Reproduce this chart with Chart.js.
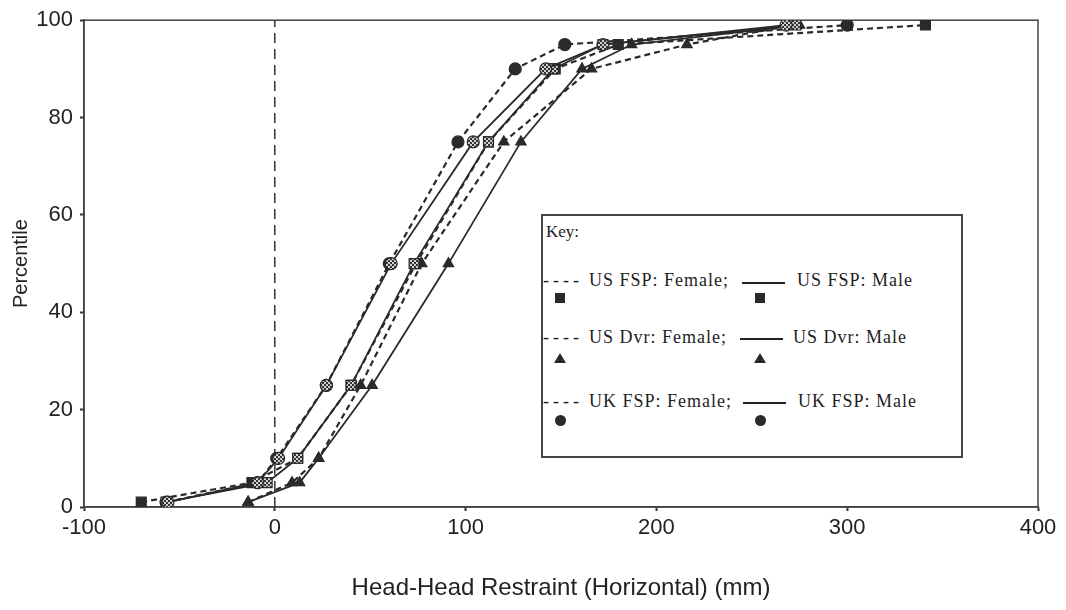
<!DOCTYPE html>
<html>
<head>
<meta charset="utf-8">
<script src="https://cdn.jsdelivr.net/npm/chart.js@4"></script>
<style>
  html, body { margin: 0; padding: 0; background: #fff; }
  #wrap { position: relative; width: 1066px; height: 610px; }
  #c { position: absolute; left: 0; top: 0; }
  #key { position: absolute; left: 541px; top: 214px; width: 422px; height: 244px; box-sizing: border-box;
         border: 2px solid #444; background: #fff; font-family: "Liberation Serif", "Times New Roman", serif; color: #1e1e1e; }
  .t { position: absolute; font-size: 18px; line-height: 18px; white-space: nowrap; letter-spacing: 1px; }
  .dl { position: absolute; height: 0; border-top: 2px solid #222; }
  .sq { position: absolute; width: 10px; height: 10px; background: #2a2a2a; }
  .tri { position: absolute; width: 0; height: 0; border-left: 6px solid transparent; border-right: 6px solid transparent; border-bottom: 10px solid #2a2a2a; }
  .ci { position: absolute; width: 11px; height: 11px; border-radius: 50%; background: #2a2a2a; }
</style>
</head>
<body>
<div id="wrap">
  <canvas id="c" width="1066" height="610"></canvas>
  <div id="key"></div>
</div>
<script>
// ---- data ----
const percentiles = [1, 5, 10, 25, 50, 75, 90, 95, 99];
const usFspFemale = [-70, -12, 12, 40, 74, 112, 147, 180, 341];
const usFspMale   = [-57, -4, 12, 40, 73, 112, 146, 172, 273];
const usDvrFemale = [-14, 9, 23, 45, 77, 120, 166, 216, 272];
const usDvrMale   = [-14, 13, 23, 51, 91, 129, 161, 187, 275];
const ukFspFemale = [-57, -9, 1, 27, 60, 96, 126, 152, 300];
const ukFspMale   = [-56, -9, 2, 27, 61, 104, 142, 172, 268];
const xTicks = [-100, 0, 100, 200, 300, 400];
const yTicks = [0, 20, 40, 60, 80, 100];
const zeroLineX = [0, 0];
const zeroLineY = [0, 100];
const keyTitle = "Key:";
const keyRows = [
  ["US FSP: Female;", "US FSP: Male"],
  ["US Dvr: Female;", "US Dvr: Male"],
  ["UK FSP: Female;", "UK FSP: Male"]
];

// ---- styles ----
const INK = '#2a2a2a';
function makePattern() {
  const c = document.createElement('canvas');
  c.width = 4; c.height = 4;
  const g = c.getContext('2d');
  g.fillStyle = '#d0d0d0'; g.fillRect(0, 0, 4, 4);
  g.fillStyle = '#333'; g.fillRect(0, 0, 2, 2); g.fillRect(2, 2, 2, 2);
  return g.createPattern(c, 'repeat');
}
const hatch = makePattern();

function pts(xs) { return xs.map((x, i) => ({ x: x, y: percentiles[i] })); }
function series(label, xs, dashed, shape, fill) {
  return {
    label: label,
    data: pts(xs),
    showLine: true,
    borderColor: INK,
    borderWidth: dashed ? 2.2 : 1.8,
    borderDash: dashed ? [6, 4] : [],
    tension: 0,
    pointStyle: shape,
    pointRadius: shape === 'rect' ? 7 : 6,
    pointHoverRadius: shape === 'rect' ? 7 : 6,
    pointBackgroundColor: fill,
    pointBorderColor: INK,
    pointBorderWidth: 1.2
  };
}

const datasets = [
  series(keyRows[2][1], ukFspMale, false, 'circle', hatch),
  series(keyRows[0][1], usFspMale, false, 'rect', hatch),
  series(keyRows[1][1], usDvrMale, false, 'triangle', INK),
  series(keyRows[2][0], ukFspFemale, true, 'circle', INK),
  series(keyRows[0][0], usFspFemale, true, 'rect', INK),
  series(keyRows[1][0], usDvrFemale, true, 'triangle', INK),
  {
    label: 'zero',
    data: zeroLineX.map((x, i) => ({ x: x, y: zeroLineY[i] })),
    showLine: true,
    borderColor: '#333',
    borderWidth: 1.5,
    borderDash: [10, 6],
    pointRadius: 0,
    pointHoverRadius: 0
  }
];

const frame = {
  id: 'frame',
  beforeDatasetsDraw(chart) {
    const a = chart.chartArea, ctx = chart.ctx;
    ctx.save();
    ctx.strokeStyle = '#444';
    ctx.lineWidth = 1.5;
    ctx.strokeRect(a.left, a.top, a.right - a.left, a.bottom - a.top);
    ctx.restore();
  }
};

const FONT = 'Liberation Sans, Arial, sans-serif';
new Chart(document.getElementById('c'), {
  type: 'scatter',
  data: { datasets: datasets },
  plugins: [frame],
  options: {
    responsive: false,
    animation: false,
    layout: { padding: { top: 17, right: 28, left: 0, bottom: 0 } },
    plugins: { legend: { display: false }, tooltip: { enabled: false } },
    scales: {
      x: {
        type: 'linear',
        min: xTicks[0], max: xTicks[xTicks.length - 1],
        afterBuildTicks: s => { s.ticks = xTicks.map(v => ({ value: v })); },
        afterFit: s => { s.height = 103; },
        ticks: { color: '#222', padding: 4, font: { family: FONT, size: 22 } },
        grid: { drawOnChartArea: false, drawTicks: true, tickLength: 4, color: '#333', tickWidth: 2 },
        border: { color: '#333', width: 1.5 },
        title: { display: true, text: 'Head-Head Restraint (Horizontal) (mm)', color: '#222',
                 font: { family: FONT, size: 24 }, padding: { top: 0, bottom: 7 } }
      },
      y: {
        type: 'linear',
        min: yTicks[0], max: yTicks[yTicks.length - 1],
        afterBuildTicks: s => { s.ticks = yTicks.map(v => ({ value: v })); },
        afterFit: s => { s.width = 84; },
        ticks: { color: '#222', padding: 7, font: { family: FONT, size: 22 } },
        grid: { drawOnChartArea: false, drawTicks: true, tickLength: 4, color: '#333', tickWidth: 2 },
        border: { color: '#333', width: 1.5 },
        title: { display: true, text: 'Percentile', color: '#222',
                 font: { family: FONT, size: 20 }, padding: { top: 9, bottom: 0 } }
      }
    }
  }
});

// ---- key box (text kept as real text) ----
(function buildKey() {
  const key = document.getElementById('key');
  const ox = 543, oy = 216; // inner origin of the box (page coords)
  function add(cls, x, y, text, extra) {
    const d = document.createElement('div');
    d.className = cls;
    d.style.left = (x - ox) + 'px';
    d.style.top = (y - oy) + 'px';
    if (text !== undefined) d.textContent = text;
    if (extra) Object.assign(d.style, extra);
    key.appendChild(d);
    return d;
  }
  add('t', 546, 223, keyTitle, { letterSpacing: '0px', fontSize: '17px' });
  const baselines = [286, 343, 407];
  const lineY = [282, 338, 402];
  const lineX = [742, 740, 743];
  const rightX = [797, 793, 798];
  const markY = [298, 358, 420];
  const shapes = ['sq', 'tri', 'ci'];
  keyRows.forEach((row, i) => {
    const top = baselines[i] - 15;
    add('t', 543, top, '----', { letterSpacing: '4px' });
    add('t', 589, top, row[0]);
    add('dl', lineX[i], lineY[i], undefined, { width: '43px' });
    add('t', rightX[i], top, row[1]);
    const s = shapes[i];
    const w = s === 'sq' ? 10 : (s === 'tri' ? 12 : 11);
    const h = s === 'sq' ? 10 : (s === 'tri' ? 10 : 11);
    add(s, 560 - w / 2, markY[i] - h / 2);
    add(s, 760 - w / 2, markY[i] - h / 2);
  });
})();
</script>
</body>
</html>
